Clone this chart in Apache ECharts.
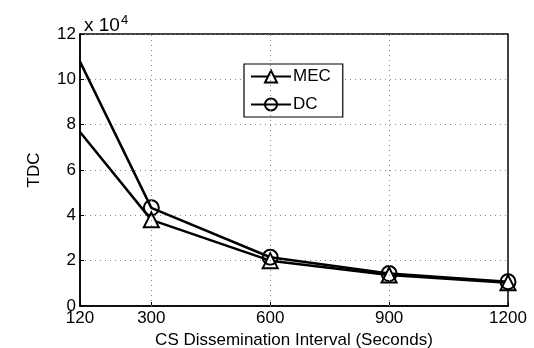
<!DOCTYPE html>
<html><head><meta charset="utf-8">
<script src="https://cdn.jsdelivr.net/npm/echarts@6/dist/echarts.min.js"></script>
<style>html,body{margin:0;padding:0;background:#fff}#c{width:534px;height:348px}</style>
</head><body><div id="c"></div>
<script>
const xValues = [120, 300, 600, 900, 1200];
const xTicks = [120, 300, 600, 900, 1200];
const yTicks = [0, 2, 4, 6, 8, 10, 12];
const mec = [7.68, 3.8, 2.0, 1.37, 1.03];
const dc = [10.78, 4.33, 2.15, 1.43, 1.07];
const seriesNames = ['MEC', 'DC'];

const font = 'Liberation Sans, Arial, Helvetica, sans-serif';
const chart = echarts.init(document.getElementById('c'), null, {renderer: 'canvas'});
const pair = arr => xValues.map((x, i) => [x, arr[i]]);
const symSize = (v, p) => p.dataIndex === 0 ? 0 : 15;
const gridLines = xTicks.filter(v => v !== xTicks[0] && v !== xTicks[xTicks.length - 1]);

chart.setOption({
  animation: false,
  backgroundColor: '#fff',
  grid: {left: 80, right: 26, top: 34, bottom: 42, containLabel: false, outerBoundsMode: 'none',
    show: true, borderColor: '#000', borderWidth: 1.5, backgroundColor: 'transparent'},
  title: {
    text: 'x 10{s|4}', left: 79, top: 9,
    textStyle: {fontFamily: font, fontSize: 19, fontWeight: 'normal', color: '#000',
      rich: {s: {fontFamily: font, fontSize: 13, verticalAlign: 'top', padding: [0, 0, 10, 1], color: '#000'}}}
  },
  legend: {
    data: seriesNames, orient: 'vertical', left: 244, top: 64,
    itemWidth: 40, itemHeight: 15, itemGap: 11,
    backgroundColor: '#fff', borderColor: '#000', borderWidth: 1.2, padding: [4, 12, 4, 6],
    textStyle: {fontFamily: font, fontSize: 17, color: '#000', padding: [0, 0, 0, -3]}
  },
  xAxis: {
    type: 'value', min: 120, max: 1200,
    name: 'CS Dissemination Interval (Seconds)', nameLocation: 'middle', nameGap: 22,
    nameTextStyle: {fontFamily: font, fontSize: 17, color: '#000'},
    axisLine: {show: true, lineStyle: {color: '#000', width: 1.5}},
    axisTick: {show: true, inside: true, length: 4, customValues: xTicks, lineStyle: {color: '#000'}},
    axisLabel: {customValues: xTicks, formatter: v => String(v), fontFamily: font, fontSize: 17, color: '#000', margin: 4},
    splitLine: {show: false}
  },
  yAxis: {
    type: 'value', min: 0, max: 12, interval: 2,
    name: 'TDC', nameLocation: 'middle', nameGap: 37,
    nameTextStyle: {fontFamily: font, fontSize: 17, color: '#000'},
    axisLine: {show: true, lineStyle: {color: '#000', width: 1.5}},
    axisTick: {show: true, inside: true, length: 4, lineStyle: {color: '#000'}},
    axisLabel: {fontFamily: font, fontSize: 17, color: '#000', margin: 4},
    splitLine: {show: true, lineStyle: {color: '#888', type: [1, 4], width: 1}}
  },
  series: [
    {
      name: seriesNames[0], type: 'line', data: pair(mec),
      symbol: 'triangle', symbolSize: symSize, showAllSymbol: true,
      lineStyle: {color: '#000', width: 2.5},
      itemStyle: {color: '#fff', borderColor: '#000', borderWidth: 2},
      markLine: {
        silent: true, symbol: 'none', label: {show: false},
        lineStyle: {color: '#888', type: [1, 4], width: 1},
        data: gridLines.map(v => ({xAxis: v}))
      },
      z: 3
    },
    {
      name: seriesNames[1], type: 'line', data: pair(dc),
      symbol: 'circle', symbolSize: symSize, showAllSymbol: true,
      lineStyle: {color: '#000', width: 2.5},
      itemStyle: {color: 'rgba(255,255,255,0)', borderColor: '#000', borderWidth: 2},
      z: 3
    }
  ]
});
</script></body></html>
